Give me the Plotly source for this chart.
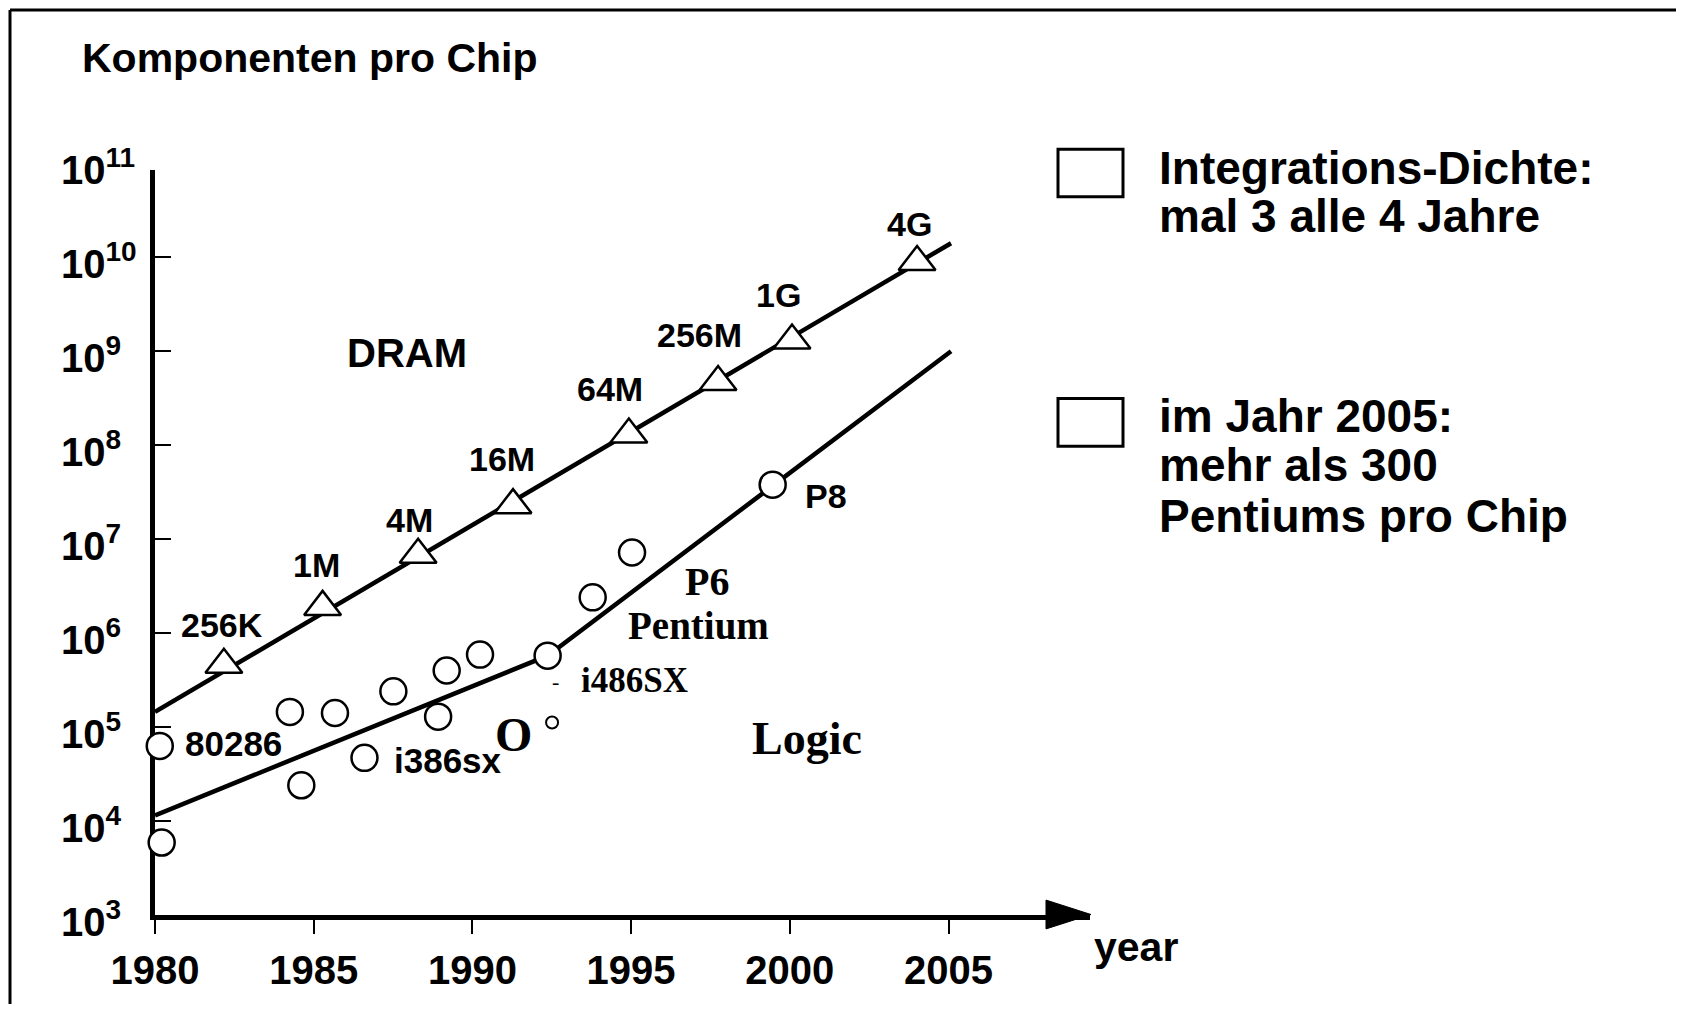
import plotly.graph_objects as go
import math

# ---------------- data ----------------
dram_years = [1982.17, 1985.28, 1988.29, 1991.28, 1994.93, 1997.74, 2000.07, 2004.01]
dram_values = [4.6e5, 1.9e6, 6.8e6, 2.3e7, 1.3e8, 4.7e8, 1.3e9, 8.9e9]
dram_labels = ["256K", "1M", "4M", "16M", "64M", "256M", "1G", "4G"]

dram_trend_years = [1980, 2005.08]
dram_trend_values = [1.45e5, 1.41e10]

logic_years = [1980.15, 1980.21, 1984.25, 1984.61, 1985.67, 1986.60, 1987.51,
               1988.92, 1989.19, 1990.24, 1992.37, 1993.79, 1995.03, 1999.46]
logic_values = [6.3e4, 5.9e3, 1.45e5, 2.4e4, 1.41e5, 4.7e4, 2.4e5,
                1.29e5, 4.0e5, 5.9e5, 5.75e5, 2.4e6, 7.2e6, 3.8e7]
logic_labels = ["80286", "", "", "", "", "i386sx", "", "", "", "", "i486SX", "", "", "P8"]

small_years = [1992.51]
small_values = [1.12e5]

logic_trend_years = [1980, 1992.37, 2005.08]
logic_trend_values = [1.15e4, 5.75e5, 1.0e9]

x_ticks = [1980, 1985, 1990, 1995, 2000, 2005]
y_exponents = [3, 4, 5, 6, 7, 8, 9, 10, 11]

# ---------------- layout geometry (screen pixels) ----------------
OFF = 8                       # page body margin
W, H = 1684 - 2 * OFF, 1012 - 2 * OFF
LS, RS, TS, BS = 155, 1090, 170, 920          # plot area on screen
X_RANGE = [1980, 1980 + (RS - LS) / 31.74]
Y_RANGE = [3, 3 + (BS - TS) / 94.6]

SANS = "Liberation Sans, Arial, sans-serif"
SERIF = "Liberation Serif, Times New Roman, serif"


def px(x):
    return (x - LS) / (RS - LS)


def py(y):
    return (BS - y) / (BS - TS)


fig = go.Figure()

# trend lines
fig.add_trace(go.Scatter(x=dram_trend_years, y=dram_trend_values, mode="lines",
                         line=dict(color="black", width=4.5), cliponaxis=False,
                         hoverinfo="skip", showlegend=False))
fig.add_trace(go.Scatter(x=logic_trend_years, y=logic_trend_values, mode="lines",
                         line=dict(color="black", width=4.5), cliponaxis=False,
                         hoverinfo="skip", showlegend=False))

# markers
fig.add_trace(go.Scatter(x=dram_years, y=dram_values, mode="markers",
                         marker=dict(symbol="triangle-up", size=32, color="white",
                                     line=dict(color="black", width=2.5)),
                         cliponaxis=False, showlegend=False, name="DRAM"))
fig.add_trace(go.Scatter(x=logic_years, y=logic_values, mode="markers",
                         marker=dict(symbol="circle", size=26, color="white",
                                     line=dict(color="black", width=2.5)),
                         cliponaxis=False, showlegend=False, name="Logic"))
fig.add_trace(go.Scatter(x=small_years, y=small_values, mode="markers",
                         marker=dict(symbol="circle", size=12, color="white",
                                     line=dict(color="black", width=2)),
                         cliponaxis=False, showlegend=False))

ann = []

# DRAM labels
dram_shift = [(-2, 40), (-6, 42), (-9, 35), (-11, 46), (-19, 45), (-19, 47), (-14, 45), (-8, 38)]
for yr, v, lab, (dx, dy) in zip(dram_years, dram_values, dram_labels, dram_shift):
    ann.append(dict(x=yr, y=math.log10(v), xref="x", yref="y", text=lab, showarrow=False,
                    xanchor="center", yanchor="middle", xshift=dx, yshift=dy,
                    font=dict(family=SANS, size=34, color="black", weight="bold")))

# Logic labels
logic_style = {
    "80286": (23, 2, SANS, 35),
    "i386sx": (28, -3, SANS, 35),
    "i486SX": (31, -25, SERIF, 35),
    "P8": (30, -11, SANS, 34),
}
for yr, v, lab in zip(logic_years, logic_values, logic_labels):
    if not lab:
        continue
    dx, dy, fam, sz = logic_style[lab]
    ann.append(dict(x=yr, y=math.log10(v), xref="x", yref="y", text=lab, showarrow=False,
                    xanchor="left", yanchor="middle", xshift=dx, yshift=dy,
                    font=dict(family=fam, size=sz, color="black", weight="bold")))
# small dash before i486SX
ann.append(dict(x=logic_years[10], y=math.log10(logic_values[10]), xref="x", yref="y",
                text="-", showarrow=False, xanchor="center", yanchor="middle",
                xshift=8, yshift=-26, font=dict(family=SERIF, size=22, color="black")))

# free labels
free = [
    ("DRAM", 1987.94, 8.98, SANS, 40),
    ("Logic", 2000.54, 4.88, SERIF, 46),
    ("P6", 1997.39, 6.55, SERIF, 40),
    ("Pentium", 1997.11, 6.08, SERIF, 39),
    ("O", 1991.28, 4.92, SERIF, 48),
]
for txt, x, y, fam, sz in free:
    ann.append(dict(x=x, y=y, xref="x", yref="y", text=txt, showarrow=False,
                    xanchor="center", yanchor="middle",
                    font=dict(family=fam, size=sz, color="black", weight="bold")))

# y tick labels (left aligned, placed on the log scale)
for e in y_exponents:
    ann.append(dict(x=px(59), y=(e - Y_RANGE[0]) / (Y_RANGE[1] - Y_RANGE[0]),
                    xref="paper", yref="paper",
                    text="10<sup>%d</sup>" % e, showarrow=False,
                    xanchor="left", yanchor="middle", yshift=-4,
                    font=dict(family=SANS, size=40, color="black", weight="bold")))

# axis title "year"
ann.append(dict(x=px(1092), y=py(952), xref="paper", yref="paper", text="year",
                showarrow=False, xanchor="left", yanchor="middle",
                font=dict(family=SANS, size=41, color="black", weight="bold")))

# title
ann.append(dict(x=px(80), y=py(57), xref="paper", yref="paper", text="Komponenten pro Chip",
                showarrow=False, xanchor="left", yanchor="middle",
                font=dict(family=SANS, size=41, color="black", weight="bold")))

# right-hand text
right_lines = [
    ("Integrations-Dichte:", 168),
    ("mal 3 alle 4 Jahre", 216),
    ("im Jahr 2005:", 418),
    ("mehr als 300", 467),
    ("Pentiums pro Chip", 518),
]
for txt, y in right_lines:
    ann.append(dict(x=px(1157), y=py(y), xref="paper", yref="paper", text=txt,
                    showarrow=False, xanchor="left", yanchor="middle",
                    font=dict(family=SANS, size=46, color="black", weight="bold")))

shapes = []
# legend-like boxes
for (y0, y1) in [(149, 197), (400, 448)]:
    shapes.append(dict(type="rect", xref="paper", yref="paper",
                       x0=px(1058), x1=px(1123), y0=py(y1), y1=py(y0),
                       line=dict(color="black", width=3), fillcolor="white"))
# arrow head of x axis
shapes.append(dict(type="path", xref="paper", yref="paper",
                   path="M %f %f L %f %f L %f %f Z" % (px(1046), py(905), px(1091), py(919.5),
                                                        px(1046), py(934)),
                   fillcolor="black", line=dict(color="black", width=1)))
# frame (top and left)
shapes.append(dict(type="line", xref="paper", yref="paper", x0=px(10), x1=px(1700),
                   y0=py(9), y1=py(9), line=dict(color="black", width=3)))
shapes.append(dict(type="line", xref="paper", yref="paper", x0=px(10), x1=px(10),
                   y0=py(9), y1=py(1020), line=dict(color="black", width=3)))

fig.update_layout(
    width=W, height=H,
    margin=dict(l=LS - OFF, r=W - (RS - OFF), t=TS - OFF, b=H - (BS - OFF), pad=0),
    paper_bgcolor="white", plot_bgcolor="white",
    showlegend=False,
    annotations=ann, shapes=shapes,
    xaxis=dict(range=X_RANGE, tickvals=x_ticks, ticktext=[str(t) for t in x_ticks],
               showgrid=False, zeroline=False, showline=True, linecolor="black", linewidth=5,
               ticks="outside", ticklen=14, tickwidth=2, tickcolor="black",
               ticklabelstandoff=2, layer="below traces",
               tickfont=dict(family=SANS, size=40, color="black", weight="bold")),
    yaxis=dict(type="log", range=Y_RANGE, tickvals=[10 ** e for e in y_exponents],
               showticklabels=False, showgrid=False, zeroline=False,
               showline=True, linecolor="black", linewidth=5,
               ticks="inside", ticklen=16, tickwidth=2, tickcolor="black",
               layer="below traces"),
)

fig.write_html("out.html")
